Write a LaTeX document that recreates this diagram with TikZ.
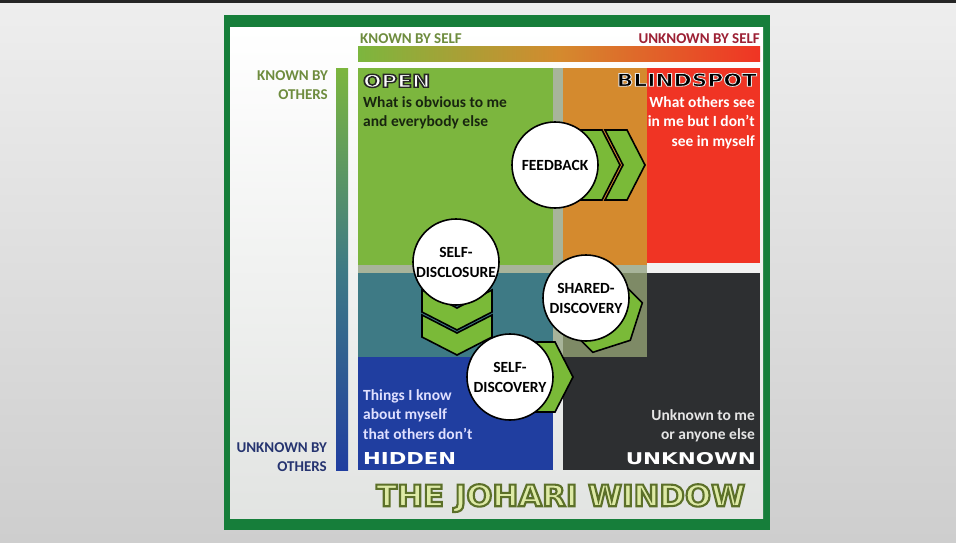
\documentclass[tikz,border=0pt]{standalone}
\usepackage{fontspec}
\setmainfont{Carlito}
\newfontfamily\wideface{DejaVu Sans}
\usepackage{graphicx}
\usetikzlibrary{positioning}
\definecolor{bgTop}{RGB}{238,238,238}
\definecolor{bgBottom}{RGB}{206,206,206}
\definecolor{frameGreen}{RGB}{22,126,58}
\definecolor{frameInner}{RGB}{226,228,226}
\definecolor{openGreen}{RGB}{124,182,62}
\definecolor{blindOrange}{RGB}{212,138,46}
\definecolor{blindRed}{RGB}{240,52,36}
\definecolor{hiddenTeal}{RGB}{62,122,133}
\definecolor{hiddenBlue}{RGB}{32,62,160}
\definecolor{unknownDark}{RGB}{45,47,49}
\definecolor{sharedOlive}{RGB}{126,138,102}
\definecolor{gapGray}{RGB}{168,180,154}
\definecolor{chevGreen}{RGB}{122,186,56}
\definecolor{selfGreen}{RGB}{110,140,62}
\definecolor{selfRed}{RGB}{156,32,52}
\definecolor{othersNavy}{RGB}{38,52,112}
\definecolor{openText}{RGB}{24,37,15}
\definecolor{titleFill}{RGB}{222,234,166}
\tikzset{axis/.style={inner sep=0pt,font=\fontsize{15}{19}\selectfont\bfseries}}
\tikzset{desc/.style={inner sep=0pt,font=\fontsize{15.5}{19.5}\selectfont\bfseries}}
\tikzset{word/.style={inner sep=0pt}}
\tikzset{bubble/.style={circle,draw=black,line width=1.6pt,fill=white,minimum size=86pt,inner sep=0pt,align=center,font=\fontsize{15.5}{20}\selectfont\bfseries}}
\tikzset{chev/.style={draw=black,line width=1.6pt,fill=chevGreen,line join=miter}}
\newcommand{\fitword}[3]{\resizebox{#1}{#2}{\wideface\bfseries #3}}
% stroke colour (r g b), stroke width, fill colour, text
\newcommand{\edgeword}[4]{{\color{#3}\special{pdf:code #1 RG #2 w 2 Tr}#4\special{pdf:code 0 Tr}}}
\newcommand{\chevat}[2]{\draw[chev, shift={#1}, rotate=#2] (0,-35) -- (22,-35) -- (40,0) -- (22,35) -- (0,35) -- (18,0) -- cycle;}

\begin{document}
\begin{tikzpicture}[x=1pt,y=-1pt]
\useasboundingbox (0,0) rectangle (956,542);
\shade[top color=bgTop,bottom color=bgBottom] (0,0) rectangle (956,542);
\fill[black!85] (0,0) rectangle (956,3);
\fill[frameGreen] (224,15) rectangle (770,530);
\shade[top color=white,bottom color=frameInner] (230,27) rectangle (763,518);

\shade[left color=openGreen,right color=blindRed,middle color=blindOrange] (358,46) rectangle (760,61);
\shade[top color=openGreen,bottom color=hiddenBlue,middle color=hiddenTeal] (336,68) rectangle (348,470);

\fill[gapGray] (553,68) rectangle (563,357);
\fill[gapGray] (358,265) rectangle (647,273);
\fill[openGreen] (358,68) rectangle (553,265);
\fill[blindOrange] (563,68) rectangle (647,265);
\fill[blindRed] (647,68) rectangle (760,263);
\fill[hiddenTeal] (358,273) rectangle (553,357);
\fill[hiddenBlue] (358,357) rectangle (553,470);
\fill[sharedOlive] (563,273) rectangle (647,357);
\fill[unknownDark] (647,273) rectangle (760,470);
\fill[unknownDark] (563,357) rectangle (647,470);

\node[axis,text=selfGreen,anchor=north west] (knownself) at (360,33) {KNOWN BY SELF};
\node[axis,text=selfRed,anchor=north east] (unknownself) at (760,33) {UNKNOWN BY SELF};
\node[axis,text=selfGreen,anchor=north east,align=right] (knownothers) at (328,70) {KNOWN BY\\OTHERS};
\node[axis,text=othersNavy,anchor=north east,align=right] (unknownothers) at (327,442) {UNKNOWN BY\\OTHERS};

\node[word,anchor=north west] (open) at (363,74) {\fitword{67pt}{13pt}{\edgeword{0.15 0.15 0.15}{0.8}{white}{OPEN}}};
\node[word,anchor=north east] (blind) at (757,73) {\fitword{140pt}{13pt}{\edgeword{0.9 0.9 0.9}{0.45}{black}{BLINDSPOT}}};
\node[word,anchor=north west] (hidden) at (363,452) {\fitword{93pt}{12pt}{\color{white}HIDDEN}};
\node[word,anchor=north east] (unknown) at (756,452) {\fitword{130pt}{12pt}{\color{white}UNKNOWN}};
\node[word,anchor=north west] (title) at (376,484) {\fitword{369pt}{22pt}{\edgeword{0.36 0.44 0.16}{0.7}{titleFill}{THE JOHARI WINDOW}}};

\node[desc,text=openText,anchor=north west,align=left] (opentxt) at (363,96) {What is obvious to me\\and everybody else};
\node[desc,text=white,anchor=north east,align=right] (blindtxt) at (755,96) {What others see\\in me but I don’t\\see in myself};
\node[desc,text=white!88!blue,anchor=north west,align=left] (hiddentxt) at (363,389) {Things I know\\about myself\\that others don’t};
\node[desc,text=white!90!black,anchor=north east,align=right] (unknowntxt) at (755,409) {Unknown to me\\or anyone else};

\chevat{(580,165)}{0}
\chevat{(605,165)}{0}
\chevat{(457,290)}{-90}
\chevat{(457,315)}{-90}
\chevat{(602,312)}{-45}
\chevat{(533,377)}{0}

\node[bubble] (disclosure) at (456,262) {SELF-\\DISCLOSURE};
\node[bubble] (feedback) at (555,165) {FEEDBACK};
\node[bubble] (shared) at (586,298) {SHARED-\\DISCOVERY};
\node[bubble] (discovery) at (510,377) {SELF-\\DISCOVERY};
\end{tikzpicture}
\end{document}
